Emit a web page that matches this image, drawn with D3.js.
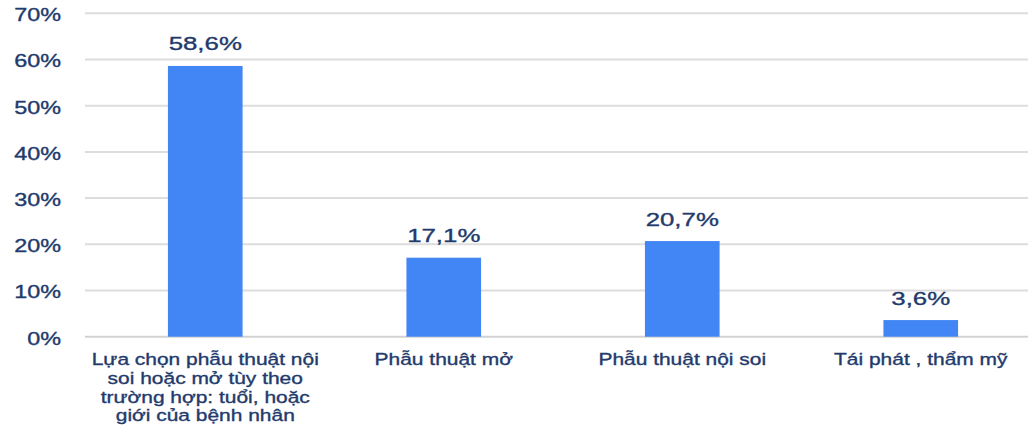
<!DOCTYPE html>
<html>
<head>
<meta charset="utf-8">
<script src="https://cdn.jsdelivr.net/npm/d3@7"></script>
<style>
  html, body { margin: 0; padding: 0; background: #fff; }
  svg { display: block; }
  text { font-family: "Liberation Sans", Arial, sans-serif; stroke: #223a6c; stroke-width: 0.35px; }
</style>
</head>
<body>
<svg id="chart" width="1028" height="428"></svg>
<script>
// Categories (each entry is a list of wrapped label lines)
const categories = [
  ["Lựa chọn phẫu thuật nội", "soi hoặc mở tùy theo", "trường hợp: tuổi, hoặc", "giới của bệnh nhân"],
  ["Phẫu thuật mở"],
  ["Phẫu thuật nội soi"],
  ["Tái phát , thẩm mỹ"]
];
const values = [58.6, 17.1, 20.7, 3.6];
const valueLabels = ["58,6%", "17,1%", "20,7%", "3,6%"];
const yTicks = [0, 10, 20, 30, 40, 50, 60, 70];

const svg = d3.select("#chart");
const textColor = "#223a6c";
const barColor = "#4285f4";
const widen = 1.3; // wide lettering used throughout the chart

const x = d3.scaleBand()
  .domain(d3.range(categories.length))
  .range([86, 1040])
  .paddingInner(0.687)
  .paddingOuter(0.3435);

const y = d3.scaleLinear().domain([0, 70]).range([336.7, 13.3]);

// gridlines
svg.append("g")
  .selectAll("line")
  .data(yTicks)
  .join("line")
  .attr("x1", 85).attr("x2", 1028)
  .attr("y1", d => y(d)).attr("y2", d => y(d))
  .attr("stroke", d => d === 0 ? "#d2d2d2" : "#dddddd")
  .attr("stroke-width", 2);

// y axis labels
const yAxis = d3.axisLeft(y).tickValues(yTicks).tickFormat(d => d + "%").tickSize(0).tickPadding(0);
const gy = svg.append("g").attr("transform", "translate(61,1)").call(yAxis);
gy.select(".domain").remove();
gy.selectAll("text")
  .attr("fill", textColor)
  .attr("font-family", "Liberation Sans, Arial, sans-serif")
  .style("font-size", "18px")
  .attr("dy", "0.36em")
  .attr("transform", `scale(${widen},1)`);

// bars
svg.append("g")
  .selectAll("rect")
  .data(values)
  .join("rect")
  .attr("x", (d, i) => x(i))
  .attr("width", x.bandwidth())
  .attr("y", d => y(d))
  .attr("height", d => y(0) - y(d))
  .attr("fill", barColor);

// value labels
svg.append("g")
  .selectAll("text")
  .data(values)
  .join("text")
  .attr("text-anchor", "middle")
  .attr("fill", textColor)
  .style("font-size", "19px")
  .attr("transform", (d, i) => `translate(${x(i) + x.bandwidth() / 2},${y(d) - 15.5}) scale(1.36,1)`)
  .text((d, i) => valueLabels[i]);

// category labels
const cat = svg.append("g")
  .selectAll("text")
  .data(categories)
  .join("text")
  .attr("text-anchor", "middle")
  .attr("fill", textColor)
  .style("font-size", "16.5px")
  .attr("transform", (d, i) => `translate(${x(i) + x.bandwidth() / 2},365) scale(1.27,1)`);
cat.selectAll("tspan")
  .data(d => d)
  .join("tspan")
  .attr("x", 0)
  .attr("y", (d, j) => j * 18.8)
  .text(d => d);
</script>
</body>
</html>
